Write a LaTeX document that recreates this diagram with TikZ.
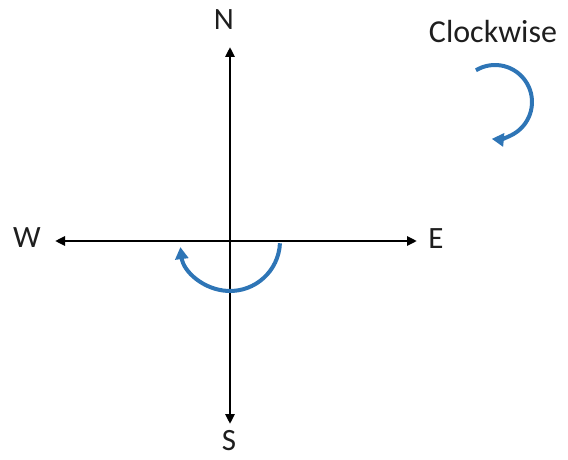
\documentclass[tikz,border=0pt]{standalone}
\usepackage{fontspec}
\setmainfont{Carlito}
\usetikzlibrary{arrows.meta}
\definecolor{arcblue}{RGB}{46,117,182}
\definecolor{txt}{RGB}{30,30,30}
\begin{document}
\begin{tikzpicture}[x=1pt,y=1pt,
  axis/.style={line width=2.8pt, {Triangle[length=10pt,width=9pt]}-{Triangle[length=10pt,width=9pt]}},
  rot/.style={draw=arcblue, line width=4pt, -{Triangle[length=12pt,width=13pt]}},
  lbl/.style={font=\fontsize{31}{37}\selectfont, anchor=base, inner sep=0pt, text=txt}]
\useasboundingbox (0,0) rectangle (568,459);
% labels
\node[lbl] (N) at (224,429) {N};
\node[lbl] (S) at (229,9) {S};
\node[lbl] (W) at (27,212) {W};
\node[lbl] (E) at (436,211) {E};
\node[lbl, font=\fontsize{32}{38}\selectfont] (cw) at (493,416) {Clockwise};
% axis tips
\coordinate (Ntip) at (230,412);
\coordinate (Stip) at (230,35);
\coordinate (Wtip) at (55,218);
\coordinate (Etip) at (417,218);
\coordinate (O) at (230,218);
\draw[axis] (Ntip) -- (Stip);
\draw[axis] (Wtip) -- (Etip);
% rotation arcs
\draw[rot] ([shift={(-2.6:50)}]O) arc[start angle=-2.6, end angle=-173, radius=50];
\coordinate (C2) at (495,357);
\draw[rot] ([shift={(121:37)}]C2) arc[start angle=121, end angle=-95, radius=37];
\end{tikzpicture}
\end{document}
